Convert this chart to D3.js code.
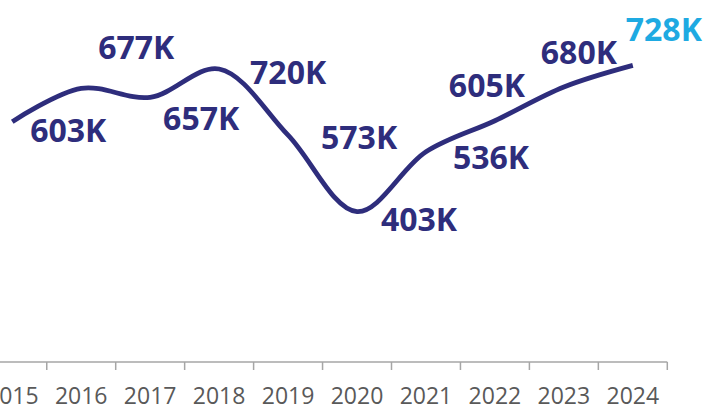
<!DOCTYPE html>
<html>
<head>
<meta charset="utf-8">
<script src="https://cdn.jsdelivr.net/npm/d3@7"></script>
<style>
  html, body { margin: 0; padding: 0; background: #ffffff; }
  svg { display: block; }
</style>
</head>
<body>
<svg id="chart" width="706" height="406"></svg>
<script>
// Annual totals (thousands)
const years  = ["2015", "2016", "2017", "2018", "2019", "2020", "2021", "2022", "2023", "2024"];
const values = [603, 677, 657, 720, 573, 403, 536, 605, 680, 728];
const valueLabels = ["603K", "677K", "657K", "720K", "573K", "403K", "536K", "605K", "680K", "728K"];

// Where each value label sits relative to its point (dx, baseline dy)
const labelOffsets = [
  [56, 20], [55, -29], [51, 33], [69, 15], [71, 14],
  [62, 19], [65, 17], [-8, -24], [15, -23], [31, -24]
];

const navy = "#2e2d7c";
const highlight = "#1eaae2";
const axisColor = "#a6a6a6";
const tickText = "#595959";

const svg = d3.select("#chart");
const axisY = 362;

const x = d3.scaleBand()
  .domain(years)
  .range([-22.2, 667.3]);

const y = d3.scaleLinear()
  .domain([70, 800])
  .range([361.5, 33]);

const cx = d => x(d) + x.bandwidth() / 2;

// Category axis: baseline with ticks between categories
const axisG = svg.append("g").attr("transform", `translate(0,${axisY})`);
axisG.append("line")
  .attr("x1", x.range()[0]).attr("x2", x.range()[1])
  .attr("y1", 0).attr("y2", 0)
  .attr("stroke", axisColor).attr("stroke-width", 1.5);

const boundaries = years.map(d => x(d) + x.bandwidth());
axisG.selectAll("line.tick")
  .data(boundaries)
  .join("line")
  .attr("class", "tick")
  .attr("x1", d => d).attr("x2", d => d)
  .attr("y1", 0).attr("y2", 8)
  .attr("stroke", axisColor).attr("stroke-width", 1.5);

axisG.selectAll("text.year")
  .data(years)
  .join("text")
  .attr("class", "year")
  .attr("x", d => cx(d))
  .attr("y", 42)
  .attr("text-anchor", "middle")
  .attr("font-family", "'Open Sans', sans-serif")
  .attr("font-size", 23)
  .attr("fill", tickText)
  .text(d => d);

// Smoothed trend line
const pts = years.map((d, i) => ({ year: d, value: values[i] }));
const line = d3.line()
  .x(d => cx(d.year))
  .y(d => y(d.value))
  .curve(d3.curveCatmullRom.alpha(0.5));

svg.append("path")
  .datum(pts)
  .attr("d", line)
  .attr("fill", "none")
  .attr("stroke", navy)
  .attr("stroke-width", 4.8)
  .attr("stroke-linejoin", "round");

// Value labels
svg.selectAll("text.value")
  .data(pts)
  .join("text")
  .attr("class", "value")
  .attr("x", (d, i) => cx(d.year) + labelOffsets[i][0])
  .attr("y", (d, i) => y(d.value) + labelOffsets[i][1])
  .attr("text-anchor", "middle")
  .attr("font-family", "'Open Sans', sans-serif")
  .attr("font-weight", 700)
  .attr("font-size", 32)
  .attr("fill", (d, i) => i === years.length - 1 ? highlight : navy)
  .text((d, i) => valueLabels[i]);
</script>
</body>
</html>
